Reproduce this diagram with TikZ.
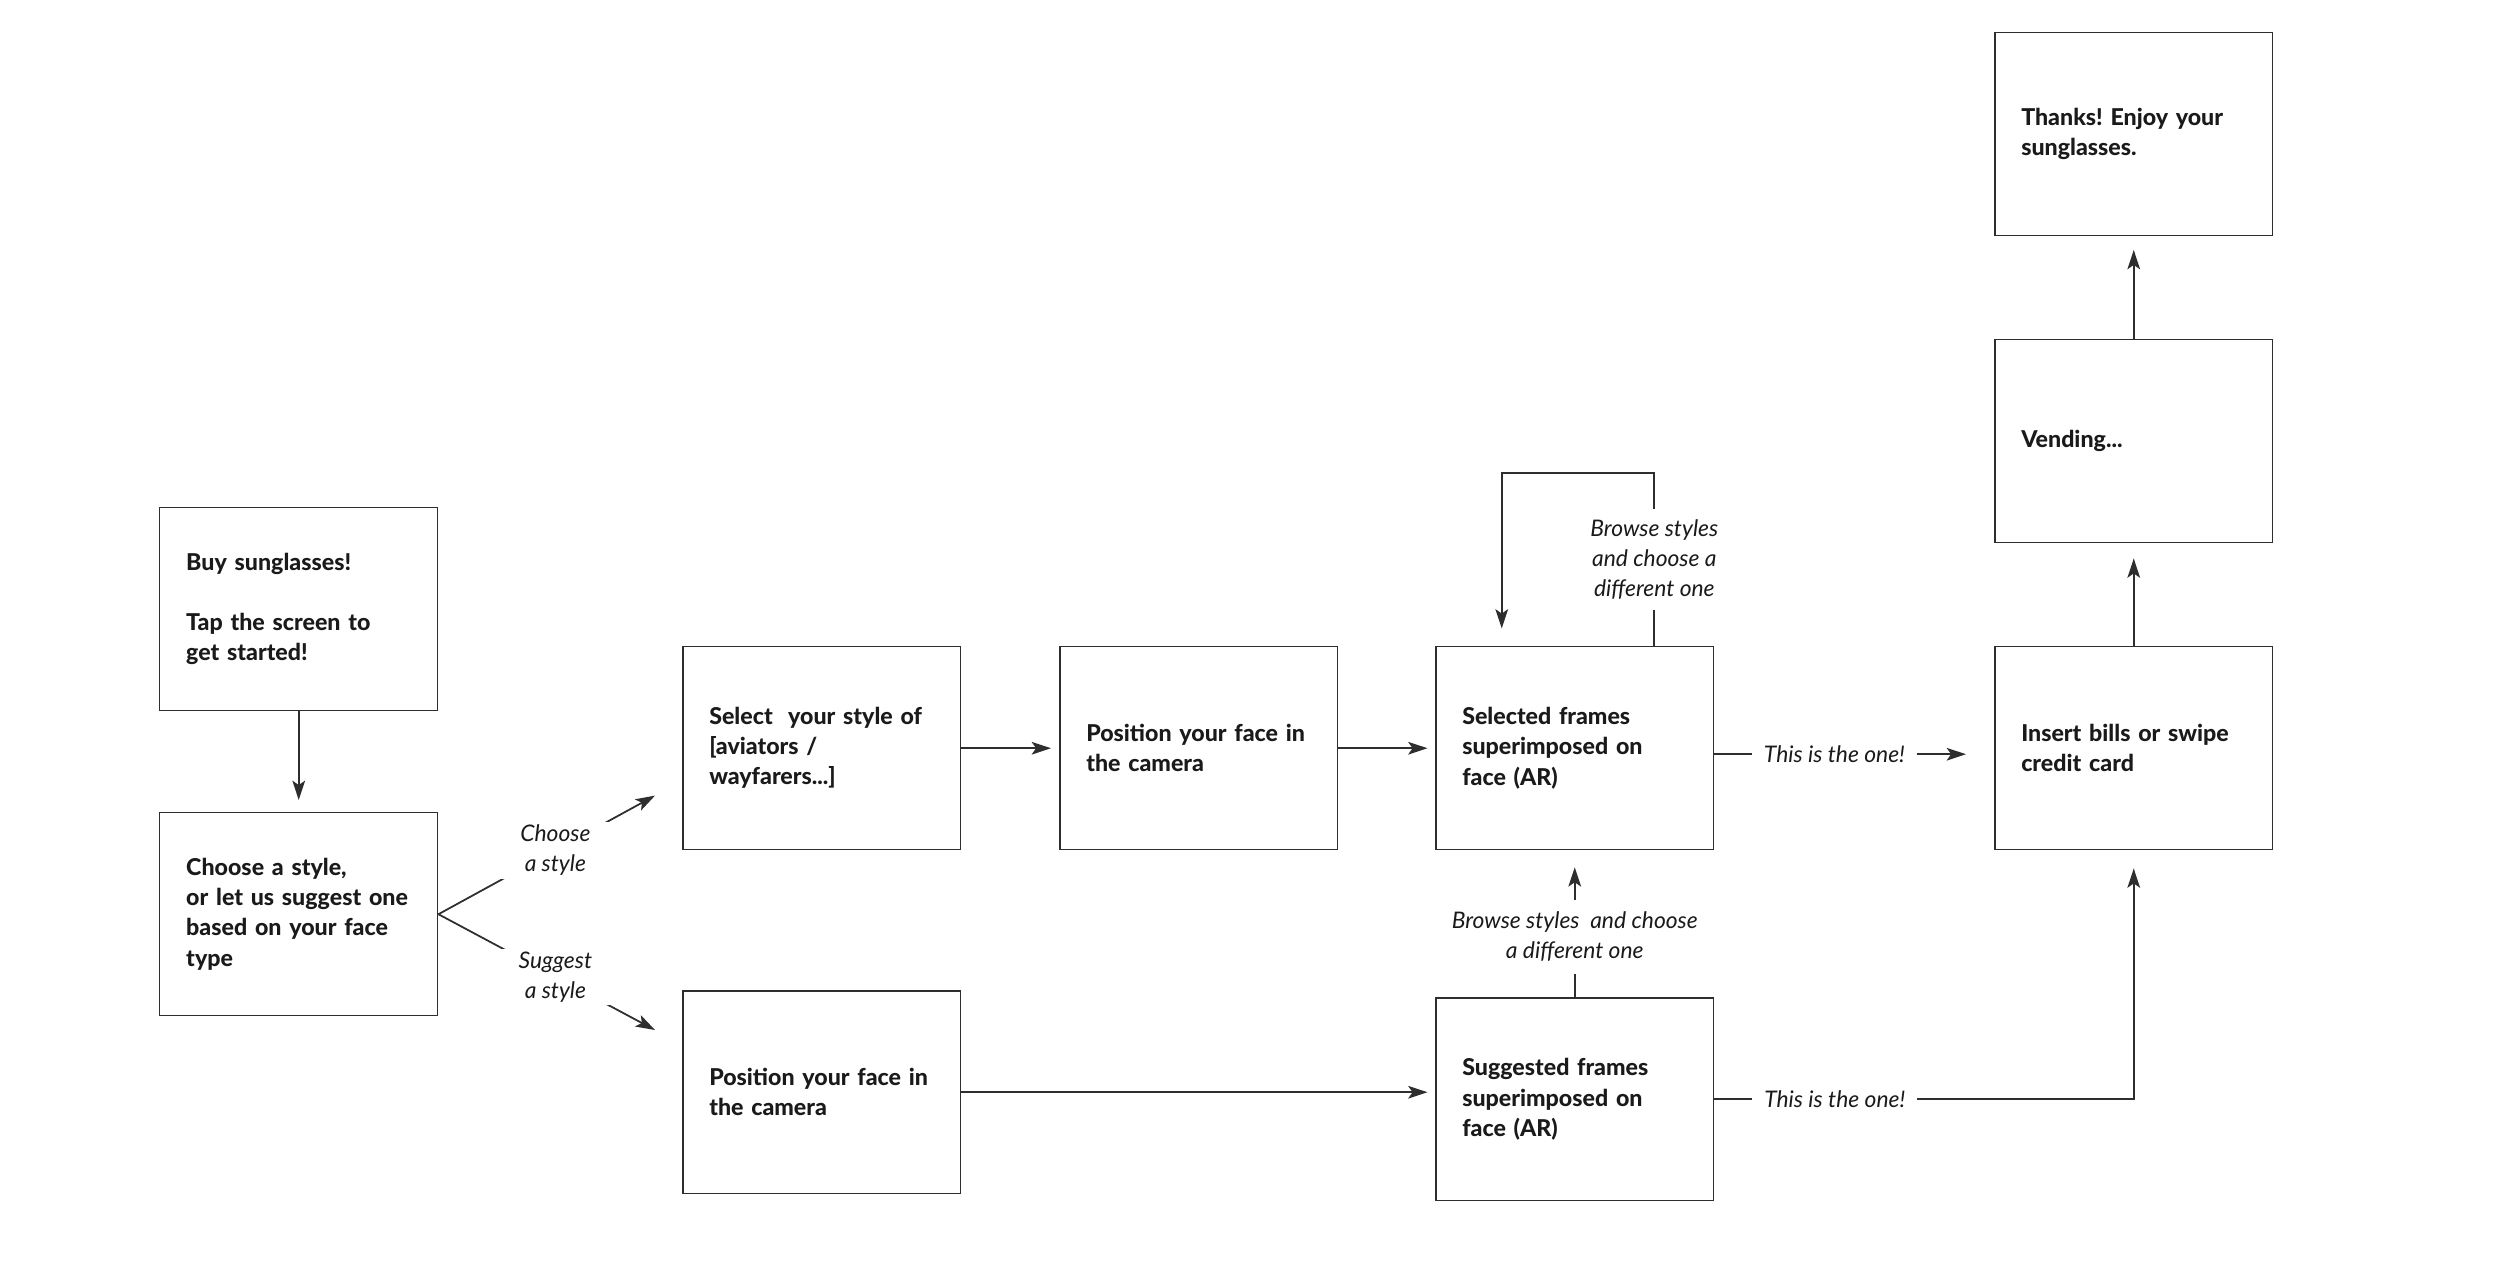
\documentclass[tikz,border=0pt]{standalone}
\usepackage{fontspec}
\setmainfont{Lato}
\newfontfamily\boxfont{Lato Heavy}
\newfontfamily\lblfont{Lato Italic}
\usetikzlibrary{arrows.meta}
\definecolor{ink}{HTML}{1A1A1A}
\definecolor{linec}{HTML}{2E2E2E}
\frenchspacing
\begin{document}
\begin{tikzpicture}[x=0.02cm,y=-0.02cm,
  box/.style={draw=linec, line width=0.85pt, minimum width=5.56cm, minimum height=4.06cm,
    text width=4.5cm, inner xsep=0.53cm, inner ysep=0pt, align=left, anchor=north west,
    font=\boxfont\fontsize{13.2pt}{17.1pt}\selectfont, text=ink},
  conn/.style={draw=linec, line width=1pt},
  arr/.style={conn, -{Stealth[length=11pt,width=7.2pt,inset=2.5pt]}},
  lbl/.style={fill=white, font=\lblfont\fontsize{13pt}{17.1pt}\selectfont, text=ink,
    align=center, inner xsep=0.24cm, inner ysep=0pt}
]
\fill[white] (0,0) rectangle (2500,1273);
\useasboundingbox (0,0) rectangle (2500,1273);

% boxes
\node[box] (buy) at (159,507) {\mbox{Buy sunglasses!}\\ \mbox{}\\ \mbox{Tap the screen to}\\ \mbox{get started!}};
\node[box] (choose) at (159,812) {\mbox{Choose a style,}\\ \mbox{or let us suggest one}\\ \mbox{based on your face}\\ \mbox{type}};
\node[box] (select) at (682,646) {\mbox{Select\ \ your style of}\\ \mbox{[aviators /}\\ \mbox{wayfarers...]}};
\node[box] (postop) at (1059,646) {\mbox{Position your face in}\\ \mbox{the camera}};
\node[box] (sel) at (1435,646) {\mbox{Selected frames}\\ \mbox{superimposed on}\\ \mbox{face (AR)}};
\node[box] (ins) at (1994,646) {\mbox{Insert bills or swipe}\\ \mbox{credit card}};
\node[box] (vend) at (1994,339) {\mbox{Vending...}};
\node[box] (thanks) at (1994,32) {\mbox{Thanks! Enjoy your}\\ \mbox{sunglasses.}};
\node[box] (posbot) at (682,990) {\mbox{Position your face in}\\ \mbox{the camera}};
\node[box] (sug) at (1435,997) {\mbox{Suggested frames}\\ \mbox{superimposed on}\\ \mbox{face (AR)}};

% free ends of the branch arrows
\coordinate (ctip) at (655,795.6);
\coordinate (stip) at (655,1030);

% connectors
\draw[arr, shorten >=0.24cm] (buy) -- (choose);
\draw[arr] (choose.east) -- node[lbl, pos=0.54, inner xsep=0.42cm, inner ysep=0.06cm]{Choose\\a style} (ctip);
\draw[arr] (choose.east) -- node[lbl, pos=0.54, inner xsep=0.42cm, inner ysep=0.06cm]{Suggest\\a style} (stip);
\draw[arr, shorten >=0.16cm] (select) -- (postop);
\draw[arr, shorten >=0.15cm] (postop) -- (sel);
\draw[arr, shorten >=0.35cm] ([xshift=1.592cm]sel.north)
  -- node[lbl, inner ysep=0.21cm]{Browse styles\\and choose a\\different one} ++(0,-173)
  -| ([xshift=-1.46cm]sel.north);
\draw[arr, shorten >=0.336cm] (sug.north) -- node[lbl, pos=0.41, inner ysep=0.246cm]{Browse styles\ \ and choose\\a different one} (sel.south);
\draw[arr] ([yshift=-0.12cm]sel.east) -- node[lbl, pos=0.477]{This is the one!} ([yshift=-0.12cm, xshift=-0.56cm]ins.west);
\draw[arr, shorten >=0.36cm] (sug.east) -- node[lbl, pos=0.287]{This is the one!} (sug.east -| ins.south) -- (ins.south);
\draw[arr, shorten >=0.15cm] (posbot.east) -- (posbot.east -| sug.west);
\draw[arr, shorten >=0.3cm] (ins) -- (vend);
\draw[arr, shorten >=0.27cm] (vend) -- (thanks);
\end{tikzpicture}
\end{document}
